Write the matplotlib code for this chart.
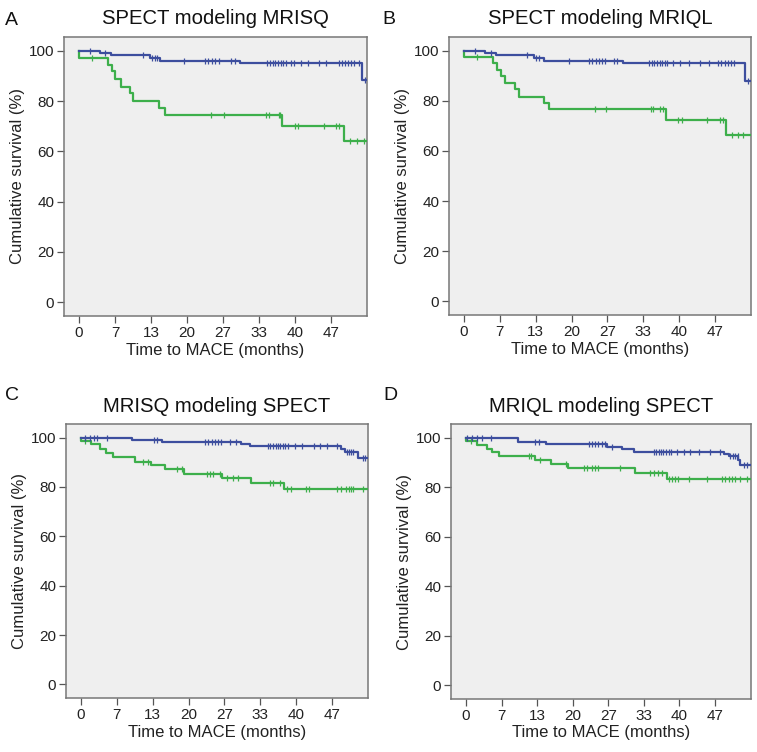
import numpy as np
import matplotlib
matplotlib.use("Agg")
import matplotlib.pyplot as plt

plt.rcParams['font.family'] = ['Liberation Sans', 'DejaVu Sans']

# x axis ticks (months), labels are rounded in the original
x_ticks = [0, 6.67, 13.33, 20, 26.67, 33.33, 40, 46.67]
x_tick_labels = ["0", "7", "13", "20", "27", "33", "40", "47"]
y_ticks = [0, 20, 40, 60, 80, 100]

panel_letters = ["A", "B", "C", "D"]
panel_titles = ["SPECT modeling MRISQ", "SPECT modeling MRIQL",
                "MRISQ modeling SPECT", "MRIQL modeling SPECT"]
end_time = 53.4

# step curves: time where each level starts, survival level (%)
a_blue_t = [0, 3.9, 5.9, 13.2, 15.0, 29.8, 52.5]
a_blue_s = [100, 99.2, 98.3, 97.3, 96.1, 95.1, 88.2]
a_blue_cens = [2.0, 4.8, 11.8, 13.5, 14.0, 14.4, 19.5, 23.4, 24.0, 24.6, 25.2, 25.9,
               28.1, 29.0, 34.9, 35.4, 35.9, 36.4, 36.9, 37.4, 37.9, 38.4, 39.3, 39.9,
               41.1, 42.4, 44.5, 45.8, 48.2, 48.8, 49.4, 49.9, 50.4, 51.0, 51.9, 53.0]
a_green_t = [0, 5.4, 6.1, 6.7, 7.7, 9.5, 10.0, 14.9, 16.0, 37.6, 49.1]
a_green_s = [97.2, 94.4, 91.8, 88.7, 85.8, 83.2, 80.1, 77.2, 74.3, 70.2, 64.0]
a_green_cens = [2.4, 24.5, 26.8, 34.6, 35.2, 37.0, 37.3, 40.1, 40.6, 45.4, 47.6, 48.2,
                50.3, 51.6, 52.8]

b_blue_t = [0, 3.95, 6.0, 13.0, 14.8, 29.6, 52.3]
b_blue_s = [100, 99.2, 98.2, 97.1, 96.0, 95.1, 87.8]
b_blue_cens = [2.0, 5.0, 11.8, 13.4, 14.0, 19.5, 23.3, 23.9, 24.5, 25.1, 25.7, 26.3,
               27.9, 28.5, 34.4, 34.9, 35.4, 35.9, 36.4, 36.9, 37.4, 37.8, 38.9, 40.1,
               41.9, 44.0, 45.5, 47.3, 47.9, 48.5, 49.1, 49.7, 50.3, 52.9]
b_green_t = [0, 5.3, 6.05, 6.8, 7.7, 9.4, 10.2, 14.8, 15.9, 37.5, 48.8]
b_green_s = [97.6, 95.2, 92.5, 89.9, 87.0, 84.6, 81.7, 79.1, 76.6, 72.5, 66.5]
b_green_cens = [2.5, 24.4, 26.5, 34.7, 35.2, 36.5, 36.95, 39.9, 40.5, 45.2, 47.6, 48.2,
                49.8, 51.0, 51.9]

c_blue_t = [0, 9.5, 15.0, 29.8, 31.5, 48.4, 49.2, 51.5]
c_blue_s = [100, 99.2, 98.3, 97.4, 96.4, 95.2, 94.2, 91.6]
c_blue_cens = [0.8, 1.7, 2.5, 3.0, 4.8, 13.5, 14.1, 23.0, 23.7, 24.3, 24.9, 25.5, 26.1,
               27.7, 28.9, 34.8, 35.2, 35.7, 36.2, 36.6, 37.1, 37.5, 38.0, 38.6, 39.9,
               41.1, 43.3, 44.5, 45.7, 47.6, 49.4, 49.8, 50.2, 50.6, 52.4, 52.9]
c_green_t = [0, 1.9, 3.6, 4.7, 6.0, 10.1, 13.0, 15.7, 19.1, 26.3, 31.6, 37.8]
c_green_s = [98.8, 97.2, 95.4, 93.8, 92.2, 90.3, 88.8, 87.1, 85.3, 83.5, 81.5, 79.0]
c_green_cens = [0.8, 11.6, 12.5, 17.8, 18.7, 23.4, 24.0, 24.6, 25.8, 27.2, 28.3, 29.2,
                35.2, 35.8, 37.1, 38.3, 39.1, 41.9, 42.5, 47.7, 48.4, 49.3, 49.8, 50.2,
                50.6, 52.4]

d_blue_t = [0, 9.7, 15.0, 26.4, 29.3, 31.5, 48.4, 49.2, 51.0, 51.4]
d_blue_s = [100, 98.4, 97.4, 96.4, 95.4, 94.4, 93.4, 92.4, 90.8, 89.0]
d_blue_cens = [0.2, 1.2, 2.1, 3.0, 4.6, 13.0, 13.6, 23.0, 23.6, 24.2, 24.8, 25.4, 26.1,
               27.4, 35.2, 35.6, 36.1, 36.5, 37.0, 37.5, 38.0, 38.4, 39.5, 40.8, 42.0,
               43.6, 45.7, 47.6, 49.5, 50.0, 50.4, 50.9, 52.0, 52.6]
d_green_t = [0, 2.1, 4.0, 4.9, 6.2, 12.9, 16.0, 19.2, 31.7, 37.6]
d_green_s = [98.8, 97.1, 95.5, 94.1, 92.6, 90.9, 89.3, 87.6, 85.7, 83.4]
d_green_cens = [0.9, 11.8, 12.2, 13.9, 18.8, 22.1, 22.7, 23.6, 24.2, 24.8, 28.9, 34.5,
                35.2, 36.0, 36.8, 38.0, 38.6, 39.2, 39.8, 41.7, 45.1, 47.9, 48.5, 49.2,
                49.8, 50.4, 51.3, 52.6]

panels = [
    (a_blue_t, a_blue_s, a_blue_cens, a_green_t, a_green_s, a_green_cens),
    (b_blue_t, b_blue_s, b_blue_cens, b_green_t, b_green_s, b_green_cens),
    (c_blue_t, c_blue_s, c_blue_cens, c_green_t, c_green_s, c_green_cens),
    (d_blue_t, d_blue_s, d_blue_cens, d_green_t, d_green_s, d_green_cens),
]

blue = "#3d4e9e"
green = "#3daf4b"

W, H = 757, 752
fig = plt.figure(figsize=(W / 100, H / 100), dpi=100)

# axes boxes in pixels: left, top, right, bottom
boxes = [(64, 37, 367, 316), (449, 37, 751, 315),
         (66, 424, 368, 698), (451, 424, 751, 699)]
letter_pos = [(5, 25), (382, 24), (5, 400), (383, 400)]


def draw_curve(ax, t, s, cens, color):
    tt = list(t) + [end_time]
    ss = [100] + list(s) + [s[-1]]
    ax.step([0] + tt, ss, where="post", color=color, lw=1.6, zorder=3)
    idx = np.searchsorted(t, cens, side="right") - 1
    cy = np.array(s)[idx]
    ax.plot(cens, cy, ls="none", marker="|", ms=5, mew=0.9, color=color, zorder=3)


for i, (bt, bs, bc, gt, gs, gc) in enumerate(panels):
    l, t, r, b = boxes[i]
    ax = fig.add_axes([l / W, 1 - b / H, (r - l) / W, (b - t) / H])
    ax.set_facecolor("#efefef")
    draw_curve(ax, gt, gs, gc, green)
    draw_curve(ax, bt, bs, bc, blue)
    ax.set_xlim(-2.8, 53.4)
    ax.set_ylim(-5.5, 105.5)
    ax.set_xticks(x_ticks)
    ax.set_xticklabels(x_tick_labels)
    ax.set_yticks(y_ticks)
    ax.tick_params(length=5, width=0.9, color="#555555", labelsize=11, pad=2,
                   labelcolor="#222222")
    for sp in ax.spines.values():
        sp.set_color("#777777")
        sp.set_linewidth(1.1)
    ax.set_xlabel("Time to MACE (months)", fontsize=12, labelpad=2, color="#222222")
    ax.set_ylabel("Cumulative survival (%)", fontsize=12, labelpad=3, color="#222222")
    ax.set_title(panel_titles[i], fontsize=14.6, pad=9, color="#111111")
    lx, ly = letter_pos[i]
    fig.text(lx / W, 1 - ly / H, panel_letters[i], fontsize=14, va="baseline",
             ha="left", color="#111111")

fig.savefig("out.png", dpi=100)
